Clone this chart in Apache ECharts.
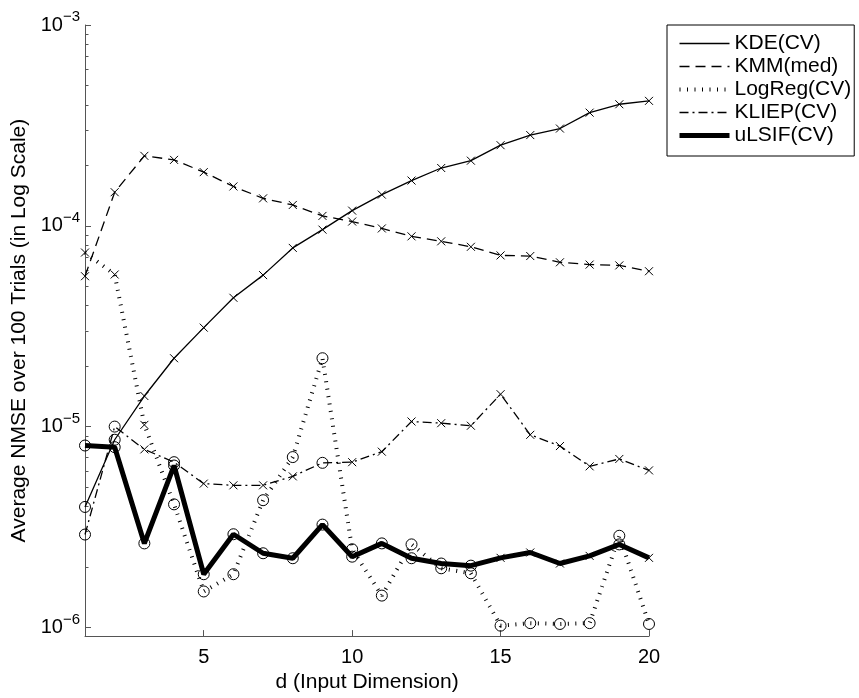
<!DOCTYPE html>
<html><head><meta charset="utf-8">
<script src="https://cdn.jsdelivr.net/npm/echarts@6/dist/echarts.min.js"></script>
<style>html,body{margin:0;padding:0;background:#fff}#c{width:859px;height:698px}</style>
</head><body><div id="c"></div>
<script>
// ---------- data ----------
const dims = [1,2,3,4,5,6,7,8,9,10,11,12,13,14,15,16,17,18,19,20];
const seriesNames = ['KDE(CV)','KMM(med)','LogReg(CV)','KLIEP(CV)','uLSIF(CV)'];
const kde    = [3.98e-6,8.6e-6,1.42e-5,2.19e-5,3.11e-5,4.38e-5,5.68e-5,7.76e-5,9.57e-5,1.19e-4,1.43e-4,1.68e-4,1.94e-4,2.11e-4,2.52e-4,2.83e-4,3.05e-4,3.66e-4,4.03e-4,4.19e-4];
const kdeMarks    = ['o','o','x','x','x','x','x','x','x','x','x','x','x','x','x','x','x','x','x','x'];
const kmm    = [5.61e-5,1.47e-4,2.23e-4,2.13e-4,1.85e-4,1.57e-4,1.37e-4,1.27e-4,1.12e-4,1.05e-4,9.7e-5,8.86e-5,8.37e-5,7.86e-5,7.12e-5,7.07e-5,6.58e-5,6.41e-5,6.35e-5,5.94e-5];
const kmmMarks    = ['x','x','x','x','x','x','x','x','x','x','x','x','x','x','x','x','x','x','x','x'];
const logreg = [7.36e-5,5.72e-5,1.02e-5,4.1e-6,1.51e-6,1.84e-6,4.3e-6,7.05e-6,2.19e-5,2.45e-6,1.44e-6,2.59e-6,1.97e-6,1.86e-6,1.02e-6,1.05e-6,1.04e-6,1.05e-6,2.86e-6,1.04e-6];
const logregMarks = ['x','x','x','o','o','o','o','o','o','o','o','o','o','o','o','o','o','o','o','o'];
const kliep  = [2.9e-6,1.0e-5,7.7e-6,6.65e-6,5.2e-6,5.1e-6,5.1e-6,5.65e-6,6.6e-6,6.65e-6,7.5e-6,1.06e-5,1.04e-5,1.01e-5,1.45e-5,9.1e-6,8.0e-6,6.34e-6,6.9e-6,6.05e-6];
const kliepMarks  = ['o','o','x','o','x','x','x','x','o','x','x','x','x','x','x','x','x','x','x','x'];
const ulsif  = [8.05e-6,7.9e-6,2.62e-6,6.4e-6,1.84e-6,2.91e-6,2.34e-6,2.21e-6,3.25e-6,2.25e-6,2.62e-6,2.21e-6,2.08e-6,2.03e-6,2.22e-6,2.36e-6,2.08e-6,2.27e-6,2.59e-6,2.22e-6];
const ulsifMarks  = ['o','o','o','o','o','o','o','o','o','o','o','o','o','o','x','x','x','x','o','x'];
const yMajorTicks = [1e-6,1e-5,1e-4,1e-3];
const xTicks = [5,10,15,20];

// ---------- chart ----------
const FONT = 'Liberation Sans';
const X_PATH = 'path://M0,0L10,10M10,0L0,10';
const O_PATH = 'path://M10,5A5,5,0,1,1,0,5A5,5,0,1,1,10,5Z';
function pts(vals, marks) {
  return vals.map((v, i) => ({
    value: [dims[i], v],
    symbol: marks[i] === 'o' ? O_PATH : X_PATH,
    symbolSize: marks[i] === 'o' ? 11 : 8
  }));
}
const minorVals = [];
for (let n = -6; n <= -4; n++) for (let k = 2; k <= 9; k++) minorVals.push(k * Math.pow(10, n));

const styles = [
  {width: 1.3, type: 'solid'},
  {width: 1.3, type: [10, 6]},
  {width: 4, type: [1, 6.5]},
  {width: 1.3, type: [9, 4, 2, 4]},
  {width: 5, type: 'solid'}
];
const datas = [pts(kde, kdeMarks), pts(kmm, kmmMarks), pts(logreg, logregMarks), pts(kliep, kliepMarks), pts(ulsif, ulsifMarks)];

const series = seriesNames.map((n, i) => ({
  type: 'line', name: n, data: datas[i],
  symbol: X_PATH, symbolSize: 8, showAllSymbol: true,
  lineStyle: {color: '#000', width: styles[i].width, type: styles[i].type, cap: 'butt'},
  itemStyle: {color: 'rgba(0,0,0,0)', borderColor: '#000', borderWidth: 1},
  emphasis: {disabled: true},
  z: 2 + i
}));

const chart = echarts.init(document.getElementById('c'), null, {renderer: 'canvas'});
chart.setOption({
  animation: false,
  backgroundColor: '#fff',
  grid: {left: 85, right: 210, top: 25, bottom: 60, containLabel: false},
  legend: {
    left: 667, top: 25, orient: 'vertical',
    itemWidth: 50, itemHeight: 14, itemGap: 2,
    padding: [8, 3, 10, 10],
    borderColor: '#000', borderWidth: 1, backgroundColor: '#fff',
    selectedMode: false,
    textStyle: {fontSize: 21, color: '#000', fontFamily: FONT},
    itemStyle: {color: 'rgba(0,0,0,0)', borderColor: 'rgba(0,0,0,0)', borderWidth: 0, opacity: 0},
    data: seriesNames.map((n, i) => ({
      name: n,
      lineStyle: {color: '#000', width: styles[i].width, type: styles[i].type, opacity: 1}
    }))
  },
  xAxis: {
    type: 'value', min: 1, max: 20,
    axisLine: {show: true, onZero: false, lineStyle: {color: '#555', width: 1}},
    axisTick: {show: true, inside: true, length: 6, customValues: xTicks, lineStyle: {color: '#555'}},
    axisLabel: {customValues: xTicks, margin: 11, fontSize: 20, color: '#000', fontFamily: FONT},
    splitLine: {show: false},
    name: 'd (Input Dimension)', nameLocation: 'middle', nameGap: 24,
    nameTextStyle: {fontSize: 21, color: '#000', fontFamily: FONT}
  },
  yAxis: [{
    type: 'log', logBase: 10, min: 9.05e-7, max: 1e-3, position: 'left',
    axisLine: {show: true, lineStyle: {color: '#555', width: 1}},
    axisTick: {show: true, inside: true, length: 6, customValues: yMajorTicks, lineStyle: {color: '#555'}},
    axisLabel: {
      customValues: yMajorTicks, margin: 5,
      formatter: v => '{b|10}{e|\u2212' + (-Math.round(Math.log10(v))) + '}',
      rich: {
        b: {fontSize: 20, fontFamily: FONT, color: '#000', lineHeight: 22},
        e: {fontSize: 15, fontFamily: FONT, color: '#000', lineHeight: 15, padding: [0, 0, 16, 0]}
      }
    },
    splitLine: {show: false},
    name: 'Average NMSE over 100 Trials (in Log Scale)', nameLocation: 'middle', nameGap: 47,
    nameTextStyle: {fontSize: 21, color: '#000', fontFamily: FONT}
  }, {
    type: 'log', logBase: 10, min: 9.05e-7, max: 1e-3, position: 'left',
    axisLine: {show: false},
    axisTick: {show: true, inside: true, length: 3.5, customValues: minorVals, lineStyle: {color: '#555'}},
    axisLabel: {show: false},
    splitLine: {show: false}
  }],
  series: series
});
</script>
</body></html>
